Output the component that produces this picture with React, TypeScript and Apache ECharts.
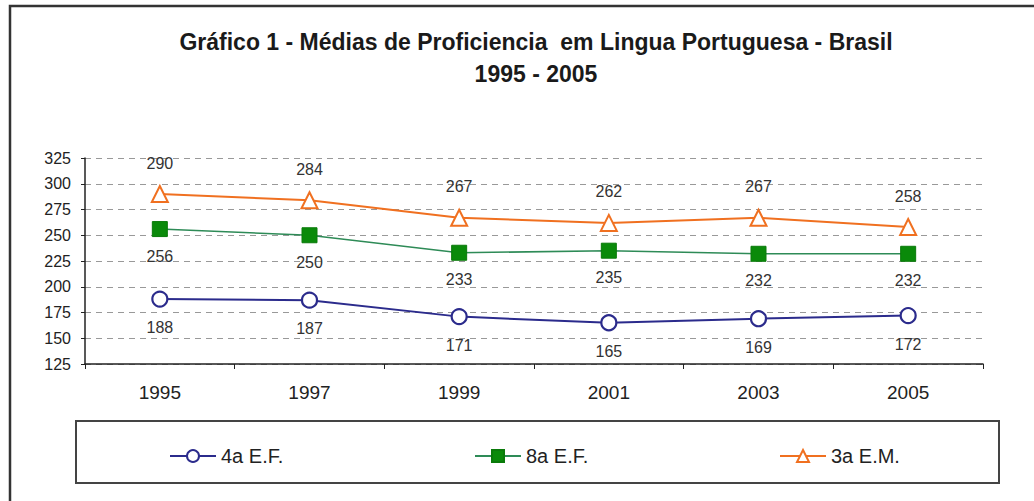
import React, { useEffect, useRef } from "react";
import * as echarts from "echarts";

const years = ["1995", "1997", "1999", "2001", "2003", "2005"];
const ef4 = [188, 187, 171, 165, 169, 172];
const ef8 = [256, 250, 233, 235, 232, 232];
const em3 = [290, 284, 267, 262, 267, 258];
const titleText = "Gráfico 1 - Médias de Proficiencia  em Lingua Portuguesa - Brasil\n1995 - 2005";

export default function App() {
  const ref = useRef<HTMLDivElement>(null);
  useEffect(() => {
    const chart = echarts.init(ref.current!, null, { renderer: "svg" });
    const font = "Liberation Sans, Arial, sans-serif";
    const labelStyle = { show: true, fontSize: 16, color: "#333", fontFamily: font };
    const legendText = { fontSize: 20, color: "#222", fontFamily: font };
    chart.setOption({
      animation: false,
      backgroundColor: "#fff",
      title: {
        text: titleText,
        left: 531,
        textAlign: "center",
        top: 21,
        textStyle: { fontSize: 23, fontWeight: "bold", color: "#1a1a1a", fontFamily: font, lineHeight: 32 },
      },
      graphic: [
        { type: "rect", shape: { x: 10, y: 6, width: 1040, height: 520 }, style: { fill: "none", stroke: "#333", lineWidth: 2.5 }, silent: true },
        { type: "rect", shape: { x: 76, y: 421, width: 923, height: 62 }, style: { fill: "none", stroke: "#444", lineWidth: 2 }, silent: true },
      ],
      legend: [
        { data: ["4a E.F."], left: 164, top: 441, itemWidth: 46, itemHeight: 15, itemGap: 4, textStyle: legendText },
        { data: ["8a E.F."], left: 469, top: 441, itemWidth: 46, itemHeight: 15, textStyle: legendText },
        { data: ["3a E.M."], left: 774, top: 441, itemWidth: 46, itemHeight: 15, textStyle: legendText },
      ],
      grid: { left: 85, right: 51, top: 158, bottom: 137 },
      xAxis: {
        type: "category",
        data: years,
        boundaryGap: true,
        axisLine: { lineStyle: { color: "#222", width: 1.5 } },
        axisTick: { show: true, length: 5, lineStyle: { color: "#222" } },
        axisLabel: { fontSize: 19, color: "#222", fontFamily: font, margin: 19 },
      },
      yAxis: {
        type: "value",
        min: 125,
        max: 325,
        interval: 25,
        axisLine: { show: true, lineStyle: { color: "#222", width: 1.5 } },
        axisTick: { show: true, length: 4, lineStyle: { color: "#222" } },
        axisLabel: { fontSize: 16, color: "#222", fontFamily: font, margin: 14 },
        splitLine: { show: true, lineStyle: { color: "#999", type: [6, 5], width: 1 } },
      },
      series: [
        {
          name: "4a E.F.",
          type: "line",
          data: ef4,
          symbol: "circle",
          symbolSize: 15,
          itemStyle: { color: "#fff", borderColor: "#2b2b8c", borderWidth: 2.2 },
          lineStyle: { color: "#2b2b8c", width: 2 },
          label: { ...labelStyle, position: "bottom", distance: 12 },
        },
        {
          name: "8a E.F.",
          type: "line",
          data: ef8,
          symbol: "rect",
          symbolSize: 15,
          itemStyle: { color: "#0a8a0a", borderColor: "#0a7a0a", borderWidth: 1 },
          lineStyle: { color: "#2e8b57", width: 1.6 },
          label: { ...labelStyle, position: "bottom", distance: 11 },
        },
        {
          name: "3a E.M.",
          type: "line",
          data: em3,
          symbol: "triangle",
          symbolSize: 16,
          itemStyle: { color: "#fff", borderColor: "#f07020", borderWidth: 2 },
          lineStyle: { color: "#f07020", width: 2 },
          label: { ...labelStyle, position: "top", distance: 14 },
        },
      ],
    });
    return () => chart.dispose();
  }, []);
  return <div ref={ref} style={{ position: "fixed", left: 0, top: 0, width: 1034, height: 501 }} />;
}
